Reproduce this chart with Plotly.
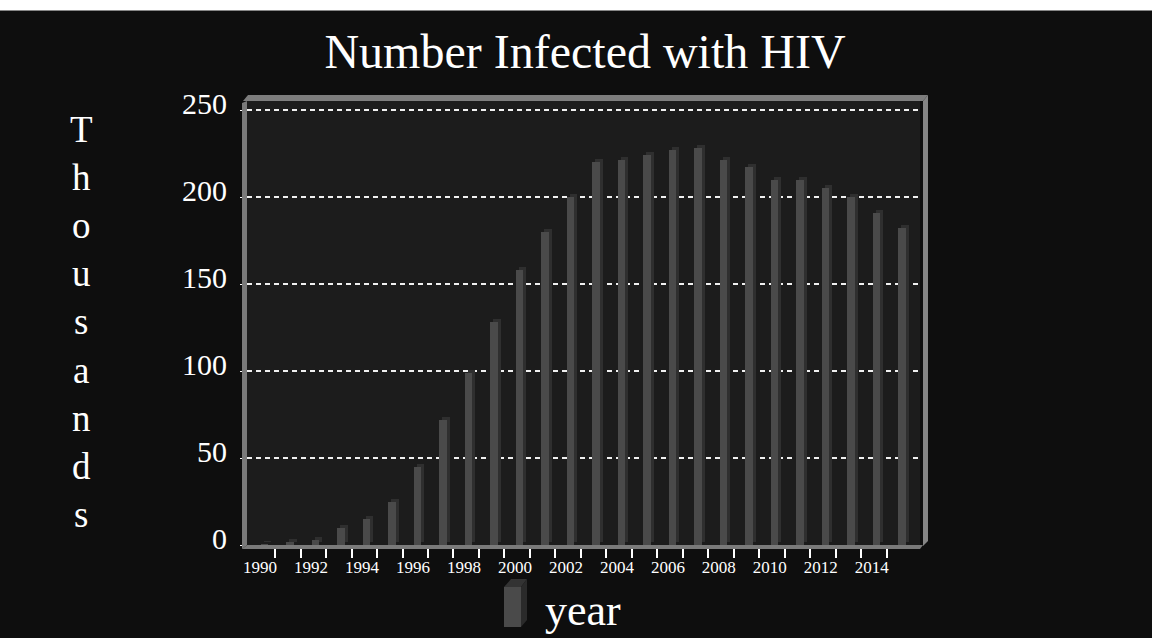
import plotly.graph_objects as go

# ---------------- data ----------------
years = [1990, 1991, 1992, 1993, 1994, 1995, 1996, 1997, 1998, 1999, 2000, 2001, 2002,
         2003, 2004, 2005, 2006, 2007, 2008, 2009, 2010, 2011, 2012, 2013, 2014, 2015]
infected_thousands = [0.5, 1.5, 3, 10, 15, 25, 45, 72, 99, 128, 158, 180, 200,
                      220, 221.5, 224, 227, 228, 221.5, 217, 210, 210, 205, 200, 191, 182]
tick_years = [1990, 1992, 1994, 1996, 1998, 2000, 2002, 2004, 2006, 2008, 2010, 2012, 2014]
tick_labels = [str(y) for y in tick_years]
y_ticks = [0, 50, 100, 150, 200, 250]
series_name = "year"
title_text = "Number Infected with HIV"
y_title = "Thousands"

# ---------------- geometry ----------------
W, H = 1152, 638
L, R, T, B = 247, 920, 101, 545
PX_PER_UNIT = 1.74
x_range = [1989.31, 2015.71]
y_range = [0, (B - T) / PX_PER_UNIT]


def px(x):
    return (x - L) / (R - L)


def py(y):
    return (B - y) / (B - T)


def poly(points, color):
    path = "M " + " L ".join(f"{px(x):.5f},{py(y):.5f}" for x, y in points) + " Z"
    return dict(type="path", xref="paper", yref="paper", path=path,
                fillcolor=color, line=dict(width=0), layer="above")


SERIF = "Liberation Serif, Times New Roman, serif"
bar_w = 0.29
depth_x = 3 / 25.5
depth_y = 3 / PX_PER_UNIT

fig = go.Figure()
# depth (side + cap) of the 3D bars
fig.add_trace(go.Bar(
    x=years, y=infected_thousands, base=depth_y, width=bar_w,
    offset=-bar_w / 2 + depth_x,
    marker=dict(color="#2f2f2f", line=dict(width=0)),
    hoverinfo="skip", showlegend=False))
# front faces
fig.add_trace(go.Bar(
    x=years, y=infected_thousands, width=bar_w, offset=-bar_w / 2,
    marker=dict(color="#4a4a4a", line=dict(width=0)),
    name=series_name, showlegend=False))

shapes = [
    # white strip at very top of page
    dict(type="rect", xref="paper", yref="paper", x0=px(0), x1=px(W), y0=py(0), y1=py(10.5),
         fillcolor="white", line=dict(width=0), layer="above"),
    # frame
    poly([(243, 101), (248, 95), (928, 95), (923, 101)], "#7d7d7d"),   # top
    poly([(923, 101), (928, 95), (928, 541), (923, 546)], "#858585"),  # right
    poly([(242, 103), (247, 101), (247, 545), (242, 549)], "#7a7a7a"),  # left
    poly([(242, 549), (247, 545), (923, 545), (920, 549)], "#7a7a7a"),  # floor
    # legend icon (3D box)
    poly([(504, 587), (511, 579), (527, 579), (521, 587)], "#333333"),
    poly([(521, 587), (527, 579), (527, 620), (521, 627)], "#2a2a2a"),
    dict(type="rect", xref="paper", yref="paper", x0=px(504), x1=px(521), y0=py(627), y1=py(587),
         fillcolor="#4a4a4a", line=dict(width=0), layer="above"),
]

annotations = [
    dict(text="<br>".join(list(y_title)), xref="paper", yref="paper",
         x=px(81), y=py(322), xanchor="center", yanchor="middle", showarrow=False,
         font=dict(family=SERIF, size=37, color="white"), align="center"),
    dict(text=series_name, xref="paper", yref="paper",
         x=px(543), y=py(610), xanchor="left", yanchor="middle", showarrow=False,
         font=dict(family=SERIF, size=44, color="white")),
]

fig.update_layout(
    width=W, height=H,
    margin=dict(l=L, r=W - R, t=T, b=H - B, pad=0),
    paper_bgcolor="#0e0e0e", plot_bgcolor="#1c1c1c",
    barmode="overlay", bargap=0,
    showlegend=False,
    title=dict(text=title_text, x=585 / W, xanchor="center", xref="container",
               y=1 - 51 / H, yanchor="middle",
               font=dict(family=SERIF, size=48, color="white")),
    xaxis=dict(range=x_range, tickmode="array",
               tickvals=[y - 0.18 for y in tick_years], ticktext=tick_labels,
               tickfont=dict(family=SERIF, size=17, color="white"),
               ticks="", showgrid=False, zeroline=False, showline=False,
               ticklabelstandoff=10,
               minor=dict(tickvals=[y + 0.41 for y in years[:-1]], ticks="outside",
                          ticklen=12, tickwidth=2, tickcolor="white", showgrid=False)),
    yaxis=dict(range=y_range, tickmode="array", tickvals=y_ticks,
               ticks="outside", ticklen=6, tickwidth=1, tickcolor="white",
               tickfont=dict(family=SERIF, size=30, color="white"),
               showgrid=True, gridcolor="#f0f0f0", gridwidth=1.5, griddash="5px,4px",
               zeroline=False, showline=False,
               ticklabelshift=-7, ticklabelstandoff=7),
    shapes=shapes, annotations=annotations,
)

fig.write_html("out.html", config={"displayModeBar": False},
               post_script="document.body.style.margin='0';document.body.style.background='#0e0e0e';")
